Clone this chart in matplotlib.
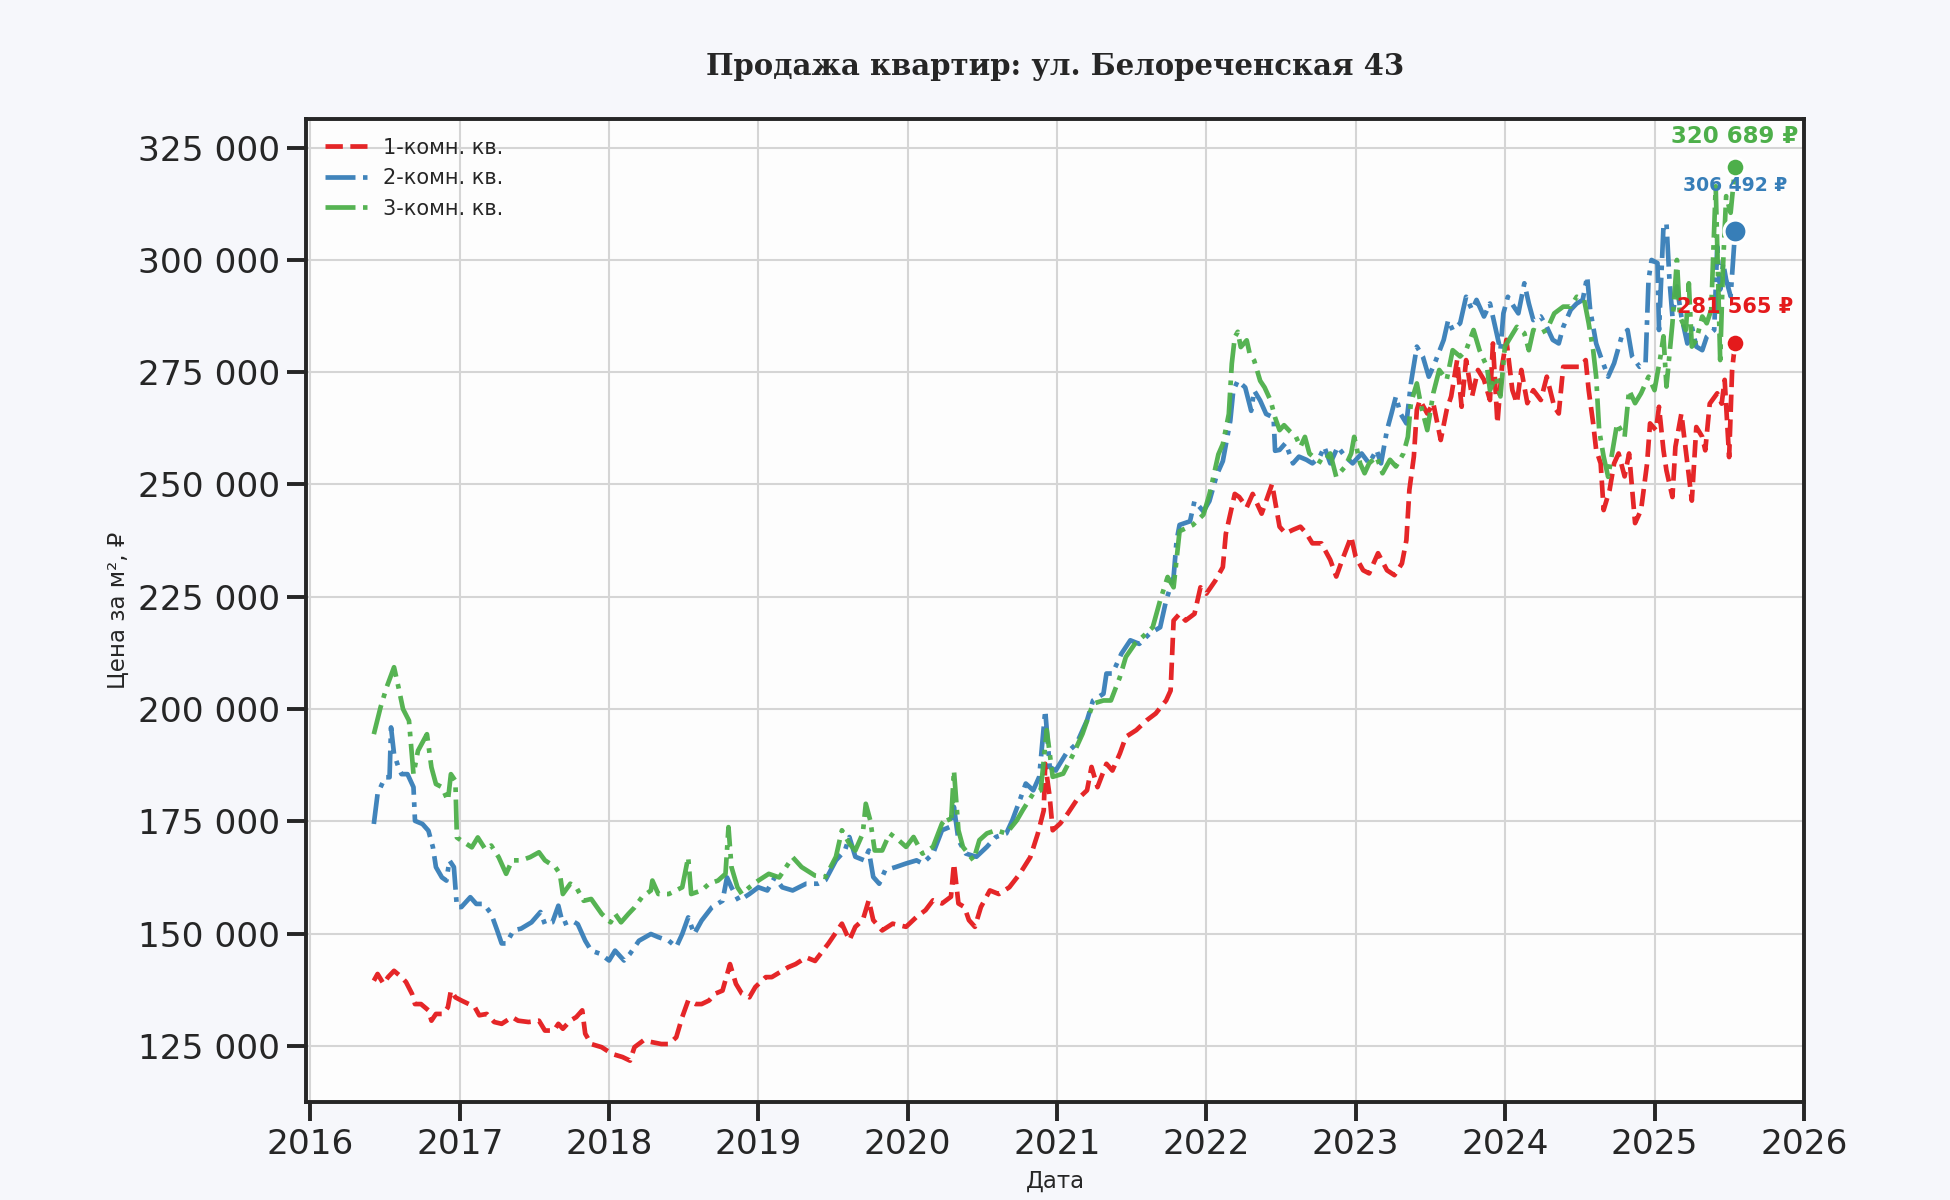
import pandas as pd
import seaborn as sns
import matplotlib
matplotlib.use("Agg")
import matplotlib.pyplot as plt
from matplotlib.ticker import FuncFormatter

# prices in thousands of rubles per m2, dates as decimal years
red_x = [2016.425, 2016.45, 2016.49, 2016.52, 2016.56, 2016.61, 2016.64, 2016.68, 2016.70, 2016.74,
         2016.79, 2016.81, 2016.84, 2016.89, 2016.92, 2016.94, 2016.97, 2017.01, 2017.06, 2017.10,
         2017.13, 2017.18, 2017.23, 2017.28, 2017.35, 2017.39, 2017.46, 2017.53, 2017.57, 2017.63,
         2017.66, 2017.69, 2017.74, 2017.78, 2017.82, 2017.84, 2017.88, 2017.95, 2018.02, 2018.09,
         2018.14, 2018.17, 2018.23, 2018.29, 2018.35, 2018.40, 2018.45, 2018.49, 2018.53, 2018.58,
         2018.62, 2018.67, 2018.71, 2018.76, 2018.81, 2018.85, 2018.89, 2018.94, 2018.98, 2019.05,
         2019.09, 2019.16, 2019.20, 2019.25, 2019.32, 2019.38, 2019.47, 2019.56, 2019.61, 2019.65,
         2019.70, 2019.74, 2019.77, 2019.83, 2019.90, 2019.99, 2020.06, 2020.12, 2020.17, 2020.23,
         2020.29, 2020.31, 2020.34, 2020.38, 2020.41, 2020.45, 2020.49, 2020.55, 2020.61, 2020.68,
         2020.75, 2020.82, 2020.87, 2020.91, 2020.92, 2020.95, 2020.97, 2021.02, 2021.07, 2021.13,
         2021.20, 2021.23, 2021.27, 2021.33, 2021.37, 2021.42, 2021.46, 2021.53, 2021.60, 2021.66,
         2021.73, 2021.76, 2021.78, 2021.82, 2021.86, 2021.92, 2021.96, 2022.00, 2022.06, 2022.11,
         2022.13, 2022.19, 2022.22, 2022.27, 2022.31, 2022.37, 2022.44, 2022.49, 2022.53, 2022.58,
         2022.63, 2022.67, 2022.71, 2022.77, 2022.83, 2022.87, 2022.91, 2022.97, 2023.00, 2023.05,
         2023.09, 2023.15, 2023.21, 2023.26, 2023.31, 2023.34, 2023.36, 2023.39, 2023.41, 2023.43,
         2023.48, 2023.52, 2023.57, 2023.61, 2023.64, 2023.68, 2023.71, 2023.74, 2023.78, 2023.82,
         2023.86, 2023.90, 2023.92, 2023.95, 2023.98, 2024.01, 2024.05, 2024.08, 2024.11, 2024.15,
         2024.19, 2024.24, 2024.28, 2024.33, 2024.36, 2024.39, 2024.44, 2024.50, 2024.54, 2024.56,
         2024.59, 2024.61, 2024.64, 2024.66, 2024.70, 2024.73, 2024.76, 2024.80, 2024.83, 2024.87,
         2024.91, 2024.95, 2024.97, 2025.01, 2025.03, 2025.06, 2025.08, 2025.12, 2025.14, 2025.18,
         2025.22, 2025.25, 2025.28, 2025.32, 2025.34, 2025.37, 2025.42, 2025.45, 2025.47, 2025.50,
         2025.52, 2025.54]
red_y = [139.5, 141, 138.8, 140.3, 141.7, 140.3, 139.2, 136.6, 134.3, 134.3,
         132.9, 130.6, 132.1, 132.1, 133.6, 137.3, 135.8, 135.1, 134.3, 133.6,
         131.8, 132.1, 130.3, 129.9, 131.4, 130.6, 130.3, 130.6, 128.4, 128.4,
         129.9, 128.8, 130.6, 131.4, 132.9, 127.7, 125.4, 124.7, 123.2, 122.5,
         121.7, 124.7, 126.2, 125.8, 125.4, 125.4, 126.9, 131.4, 135.1, 134.3,
         134.3, 135.1, 136.6, 137.3, 143.2, 138.8, 136.6, 135.8, 138.1, 140.3,
         140.3, 141.7, 142.5, 143.2, 144.7, 143.9, 147.8, 152.2, 148.5, 151.5,
         153, 157.4, 153, 150.7, 152.2, 151.5, 153.7, 155.2, 157.4, 156.7,
         158.2, 165.6, 156.7, 155.9, 153, 151.5, 155.9, 159.6, 158.8, 160.3,
         163.3, 167, 172.2, 177.4, 187.8, 180.4, 173, 174.5, 176.7, 179.7,
         181.9, 187.1, 182.6, 187.8, 186.3, 190.1, 193.8, 195.3, 197.5, 199,
         201.9, 204.1, 219.7, 221.2, 219.7, 221.2, 227.1, 225.7, 228.6, 231.6,
         239, 247.9, 247.2, 244.9, 247.9, 243.5, 250.1, 240.6, 239.1, 239.9,
         240.6, 239.1, 236.9, 236.9, 233.2, 229.5, 233.2, 238.4, 233.9, 230.9,
         230.2, 234.7, 230.9, 229.8, 232.4, 237.6, 248.8, 256.2, 266.6, 268.8,
         265.8, 268.1, 259.9, 266.6, 269.6, 277.7, 267.3, 277.7, 269.6, 275.5,
         273.3, 268.8, 281.4, 263.6, 276.2, 282.2, 271, 268.1, 275.5, 268.1,
         271, 268.8, 274, 267.3, 265.8, 276.2, 276.2, 276.2, 277.7, 271,
         263.6, 257.7, 254.7, 244.3, 248.8, 254.7, 256.9, 251.8, 256.9, 241.4,
         244.3, 254.6, 263.6, 262.1, 267.3, 257.6, 253.1, 247.2, 258.4, 265.8,
         254.6, 246.4, 262.8, 260.6, 257.6, 268, 270.3, 268, 273.3, 256.1,
         275.5, 281.565]

blue_x = [2016.425, 2016.45, 2016.50, 2016.53, 2016.54, 2016.56, 2016.59, 2016.61, 2016.65, 2016.69,
          2016.70, 2016.75, 2016.79, 2016.82, 2016.84, 2016.88, 2016.91, 2016.93, 2016.96, 2016.98,
          2017.01, 2017.07, 2017.11, 2017.16, 2017.21, 2017.25, 2017.28, 2017.31, 2017.36, 2017.41,
          2017.48, 2017.54, 2017.57, 2017.62, 2017.66, 2017.69, 2017.75, 2017.79, 2017.84, 2017.88,
          2017.94, 2018.00, 2018.04, 2018.10, 2018.14, 2018.20, 2018.28, 2018.33, 2018.40, 2018.45,
          2018.49, 2018.53, 2018.57, 2018.62, 2018.69, 2018.76, 2018.79, 2018.82, 2018.87, 2018.94,
          2019.00, 2019.06, 2019.11, 2019.16, 2019.23, 2019.32, 2019.40, 2019.45, 2019.52, 2019.58,
          2019.61, 2019.65, 2019.71, 2019.74, 2019.77, 2019.81, 2019.85, 2019.92, 2019.99, 2020.06,
          2020.10, 2020.17, 2020.23, 2020.28, 2020.31, 2020.34, 2020.39, 2020.46, 2020.53, 2020.59,
          2020.66, 2020.70, 2020.75, 2020.79, 2020.84, 2020.88, 2020.92, 2020.95, 2020.99, 2021.06,
          2021.13, 2021.20, 2021.24, 2021.31, 2021.33, 2021.37, 2021.43, 2021.49, 2021.55, 2021.62,
          2021.69, 2021.73, 2021.78, 2021.80, 2021.82, 2021.89, 2021.92, 2021.98, 2022.02, 2022.07,
          2022.11, 2022.16, 2022.18, 2022.21, 2022.26, 2022.30, 2022.32, 2022.36, 2022.40, 2022.45,
          2022.46, 2022.49, 2022.53, 2022.58, 2022.62, 2022.67, 2022.71, 2022.76, 2022.79, 2022.83,
          2022.88, 2022.93, 2022.98, 2023.04, 2023.09, 2023.14, 2023.17, 2023.21, 2023.24, 2023.27,
          2023.30, 2023.34, 2023.37, 2023.41, 2023.45, 2023.49, 2023.53, 2023.59, 2023.62, 2023.65,
          2023.70, 2023.74, 2023.78, 2023.81, 2023.86, 2023.90, 2023.94, 2023.97, 2023.99, 2024.02,
          2024.06, 2024.09, 2024.13, 2024.16, 2024.19, 2024.24, 2024.28, 2024.32, 2024.36, 2024.39,
          2024.44, 2024.48, 2024.52, 2024.55, 2024.57, 2024.61, 2024.64, 2024.69, 2024.73, 2024.78,
          2024.82, 2024.85, 2024.90, 2024.94, 2024.96, 2024.98, 2025.02, 2025.03, 2025.06, 2025.08,
          2025.10, 2025.12, 2025.15, 2025.18, 2025.22, 2025.25, 2025.28, 2025.32, 2025.35, 2025.40,
          2025.42, 2025.44, 2025.46, 2025.48, 2025.51, 2025.54]
blue_y = [174.4, 181.1, 184.8, 184.8, 195.9, 190, 187, 185.5, 185.5, 182.6,
          175.1, 174.4, 172.9, 169.2, 164.8, 162.5, 161.8, 166.3, 164.8, 155.9,
          155.9, 158.1, 156.6, 156.6, 154.4, 150.7, 147.8, 147.8, 150.7, 151.1,
          152.5, 154.8, 152.1, 152.5, 156.2, 152.1, 152.9, 152.1, 148.4, 146.2,
          145.5, 144, 146.2, 144, 145.5, 148.4, 149.9, 149.2, 148.4, 147,
          149.9, 153.6, 149.9, 152.9, 155.9, 157.3, 162.5, 160.3, 157.3, 158.8,
          160.3, 159.6, 162.5, 160.3, 159.6, 161.1, 161.1, 161.9, 166.3, 168.5,
          171.5, 167.1, 166.3, 168.5, 162.6, 161.1, 164.1, 164.8, 165.6, 166.3,
          165.6, 167.8, 173, 173.7, 178.2, 170.8, 167.8, 167.1, 169.3, 171.5,
          172.3, 175.2, 179.7, 183.4, 181.9, 184.9, 199.7, 187.1, 186.3, 190.1,
          192.3, 197.5, 201.9, 203.4, 207.9, 207.9, 212.3, 215.3, 214.5, 216.8,
          218.2, 224.2, 229.4, 237.5, 241, 241.8, 246.3, 244, 246.3, 252.2,
          255.2, 264.2, 270.9, 273.1, 271.6, 266.4, 270.9, 268.7, 265.7, 264.9,
          257.5, 257.7, 259.2, 254.7, 256.2, 255.5, 254.7, 256.2, 258.4, 254.7,
          258.4, 256.2, 254.7, 256.9, 254.7, 257.7, 254.7, 262.1, 265.8, 269.6,
          265.8, 263.6, 272.5, 280.7, 278.5, 274, 277, 282.2, 286.6, 284.4,
          285.9, 291.8, 288.9, 291.1, 287.4, 290.3, 284.4, 279.9, 288.1, 291.8,
          289.6, 288.1, 294.8, 290.3, 286.6, 287.4, 285.1, 282.2, 281.4, 285.1,
          288.9, 290.3, 291.1, 296.3, 288.9, 281.4, 278.5, 274, 277, 282.9,
          284.4, 278.5, 276.2, 277, 295.6, 300, 299.3, 284.4, 307.5, 308.2,
          295.6, 287.4, 294.1, 287.4, 281.4, 285.2, 280.7, 279.9, 282.9, 284.4,
          303, 293.4, 299.3, 295.6, 291.9, 306.492]

green_x = [2016.425, 2016.47, 2016.51, 2016.56, 2016.59, 2016.62, 2016.66, 2016.69, 2016.72, 2016.78,
           2016.81, 2016.84, 2016.88, 2016.92, 2016.94, 2016.97, 2016.98, 2017.01, 2017.08, 2017.12,
           2017.17, 2017.21, 2017.26, 2017.31, 2017.35, 2017.41, 2017.47, 2017.53, 2017.57, 2017.64,
           2017.67, 2017.69, 2017.74, 2017.78, 2017.83, 2017.88, 2017.95, 2018.01, 2018.04, 2018.08,
           2018.13, 2018.17, 2018.22, 2018.28, 2018.29, 2018.33, 2018.40, 2018.49, 2018.53, 2018.55,
           2018.62, 2018.67, 2018.73, 2018.78, 2018.80, 2018.82, 2018.86, 2018.89, 2018.94, 2019.00,
           2019.07, 2019.14, 2019.23, 2019.29, 2019.38, 2019.45, 2019.52, 2019.56, 2019.61, 2019.65,
           2019.70, 2019.72, 2019.75, 2019.78, 2019.83, 2019.88, 2019.94, 2019.99, 2020.04, 2020.10,
           2020.17, 2020.23, 2020.27, 2020.29, 2020.31, 2020.34, 2020.37, 2020.44, 2020.48, 2020.53,
           2020.59, 2020.66, 2020.73, 2020.77, 2020.84, 2020.89, 2020.93, 2020.97, 2021.04, 2021.11,
           2021.17, 2021.24, 2021.31, 2021.36, 2021.42, 2021.46, 2021.52, 2021.57, 2021.64, 2021.69,
           2021.74, 2021.78, 2021.82, 2021.91, 2021.98, 2022.02, 2022.04, 2022.08, 2022.11, 2022.15,
           2022.17, 2022.19, 2022.21, 2022.23, 2022.27, 2022.29, 2022.32, 2022.36, 2022.39, 2022.43,
           2022.46, 2022.49, 2022.52, 2022.56, 2022.60, 2022.63, 2022.66, 2022.69, 2022.74, 2022.78,
           2022.83, 2022.87, 2022.93, 2022.97, 2022.99, 2023.03, 2023.06, 2023.09, 2023.14, 2023.18,
           2023.23, 2023.27, 2023.32, 2023.35, 2023.37, 2023.41, 2023.44, 2023.48, 2023.52, 2023.56,
           2023.61, 2023.65, 2023.70, 2023.74, 2023.79, 2023.83, 2023.88, 2023.90, 2023.94, 2023.97,
           2024.00, 2024.04, 2024.08, 2024.13, 2024.16, 2024.19, 2024.24, 2024.28, 2024.33, 2024.39,
           2024.44, 2024.48, 2024.53, 2024.56, 2024.59, 2024.61, 2024.63, 2024.66, 2024.69, 2024.72,
           2024.75, 2024.80, 2024.83, 2024.87, 2024.91, 2024.96, 2025.00, 2025.04, 2025.06, 2025.08,
           2025.12, 2025.15, 2025.17, 2025.21, 2025.23, 2025.25, 2025.28, 2025.32, 2025.35, 2025.38,
           2025.41, 2025.43, 2025.44, 2025.46, 2025.48, 2025.51, 2025.54]
green_y = [194.4, 200.4, 204.8, 209.3, 204.8, 200, 197.4, 185.5, 190.7, 194.4,
           187, 183.3, 182.6, 179.6, 185.5, 184, 171.4, 170.7, 169.2, 171.4,
           168.8, 169.6, 167, 163.3, 166.3, 166.3, 167, 168.1, 166.3, 164.8,
           163.3, 158.8, 161.1, 160.3, 157.3, 157.7, 154.4, 152.5, 154.4, 152.5,
           154.4, 155.8, 158.1, 159.6, 161.8, 158.8, 158.8, 160.3, 167, 158.8,
           159.6, 161.1, 161.8, 163.3, 173.7, 164.8, 160.3, 158.8, 160.3, 161.8,
           163.3, 162.5, 167, 164.8, 162.9, 162.6, 167.1, 173, 170, 168.5,
           172.3, 178.9, 175.2, 168.5, 168.5, 172.3, 170.8, 169.3, 171.5, 167.8,
           169.3, 174.5, 176, 174.5, 186.3, 173, 169.3, 166.3, 170.8, 172.3,
           173, 172.3, 175.2, 177.5, 181.2, 181.9, 195.3, 184.9, 185.6, 190.1,
           194.5, 201.2, 201.9, 201.9, 207.1, 211.6, 214.5, 216, 218.2, 224.2,
           229.4, 227.1, 239.6, 241, 243.3, 247.8, 250.7, 256.7, 259, 265.7,
           276.9, 282.8, 284, 280.6, 282.1, 279.1, 277.6, 273.1, 271.6, 268.7,
           264.9, 262.1, 263.2, 261.8, 260.6, 258.4, 260.6, 256.9, 255.5, 254.7,
           256.9, 251.7, 254, 256.9, 260.6, 254.7, 252.5, 254.7, 256.2, 252.5,
           255.5, 254, 256.9, 260.6, 268.1, 272.5, 267.3, 262.1, 270.3, 275.5,
           273.3, 279.9, 278.5, 279.9, 284.4, 279.9, 276.2, 271, 274, 269.6,
           280.7, 282.9, 285.1, 283.7, 279.9, 284.4, 283.7, 284.4, 288.1, 289.6,
           289.6, 291.8, 291.1, 285.9, 279.9, 274, 262.1, 256.2, 251.7, 257.7,
           263.6, 260.6, 271, 268.1, 270.3, 274, 271, 278.5, 283, 271.8,
           285.9, 300, 287.4, 284.4, 294.8, 280.7, 282.2, 287.4, 285.9, 288.9,
           316.4, 290.4, 277.7, 299.3, 314.2, 310.5, 320.689]

labels = ["1-комн. кв.", "2-комн. кв.", "3-комн. кв."]
colors = ["#e41a1c", "#377eb8", "#4daf4a"]


def to_dates(years):
    out = []
    for y in years:
        start = pd.Timestamp(int(y), 1, 1)
        days = (pd.Timestamp(int(y) + 1, 1, 1) - start).days
        out.append(start + pd.Timedelta(days=(y - int(y)) * days))
    return pd.DatetimeIndex(out)


def rub(v, pos=None):
    return f"{v:,.0f}".replace(",", " ")


sns.set_theme(style="ticks", context="talk")
plt.rcParams["font.family"] = ["DejaVu Sans"]

fig = plt.figure(figsize=(13, 8), dpi=150, facecolor="#f6f7fb")
ax = fig.add_axes([0.157, 0.0817, 0.768, 0.8192])
ax.set_facecolor("#fdfdfd")

series = [(red_x, red_y, "--"), (blue_x, blue_y, "-."), (green_x, green_y, "-.")]
for (xs, ys, ls), lab, col in zip(series, labels, colors):
    dates = to_dates(xs)
    vals = [v * 1000 for v in ys]
    ax.plot(dates, vals, ls, color=col, lw=2.25, label=lab, alpha=0.95)

# last-value markers and labels
marker_sizes = [9, 11, 9]
label_sizes = [10, 9, 11]
label_offsets = [17, 21.5, 14.5]
for (xs, ys, ls), col, ms, fs, off in zip(series, colors, marker_sizes, label_sizes, label_offsets):
    last_d = to_dates([xs[-1]])[0]
    last_v = ys[-1] * 1000
    ax.plot([last_d], [last_v], "o", color=col, ms=ms, mec="white", mew=1.5, zorder=5)
    ax.annotate(f"{rub(last_v)} ₽", (last_d, last_v), xytext=(0, off), textcoords="offset points",
                ha="center", va="center", fontsize=fs, fontweight="bold", color=col, zorder=6)

ax.set_xlim(pd.Timestamp("2015-12-22"), pd.Timestamp("2026-01-01"))
ax.set_ylim(112500, 331400)
ax.yaxis.set_major_formatter(FuncFormatter(rub))
ax.grid(True, color="#d5d5d5", lw=1)
for s in ax.spines.values():
    s.set_visible(True)
    s.set_color("#262626")

ax.set_title("Продажа квартир: ул. Белореченская 43", fontsize=14, fontweight="bold",
             family="DejaVu Serif", pad=21, color="#262626")
ax.set_xlabel("Дата", fontsize=11)
ax.set_ylabel("Цена за м², ₽", fontsize=11)
ax.legend(loc="upper left", fontsize=10, frameon=False)

fig.savefig("out.png", dpi=150, facecolor=fig.get_facecolor())
